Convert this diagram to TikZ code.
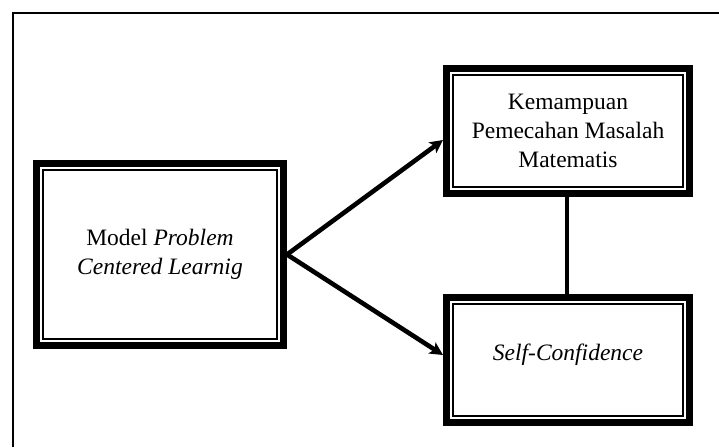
\documentclass[tikz,border=0pt]{standalone}
\usepackage{fontspec}
\setmainfont{Liberation Serif}
\usetikzlibrary{arrows.meta}
\tikzset{
  box/.style={rectangle, draw=black, line width=7pt, outer sep=3.5pt, inner sep=0pt,
    align=center, font=\fontsize{23.5pt}{29pt}\selectfont, fill=white},
  innerline/.style={draw=black, line width=1.6pt},
  conn/.style={draw=black, line width=4pt},
  arr/.style={conn, line width=4.6pt, -{Stealth[length=13pt,width=13pt,inset=3pt]}},
  frame/.style={draw=black, line width=1.3pt}
}
\begin{document}
\begin{tikzpicture}[x=1pt,y=-1pt]
\useasboundingbox (0,0) rectangle (719,447);
\draw[frame] (719,13) -- (13,13) -- (13,447);
\node[box, minimum width=247pt, minimum height=182pt] (model) at (160,254.5)
  {Model \textit{Problem}\\\textit{Centered Learnig}};
\node[box, minimum width=243pt, minimum height=125pt] (kpm) at (568,131)
  {Kemampuan\\Pemecahan Masalah\\Matematis};
\node[box, minimum width=243pt, minimum height=125pt, text depth=15pt] (sc) at (568,360)
  {\textit{Self-Confidence}};
\foreach \n in {model,kpm,sc}{
  \draw[innerline] ([shift={(9.8pt,-9.8pt)}]\n.north west) rectangle ([shift={(-9.8pt,9.8pt)}]\n.south east);
}
\draw[arr] (model.east) -- ([yshift=-9pt]kpm.west);
\draw[arr] (model.east) -- ([yshift=5pt]sc.west);
\draw[conn] ([xshift=-1pt]kpm.south) -- ([xshift=-1pt]sc.north);
\end{tikzpicture}
\end{document}
